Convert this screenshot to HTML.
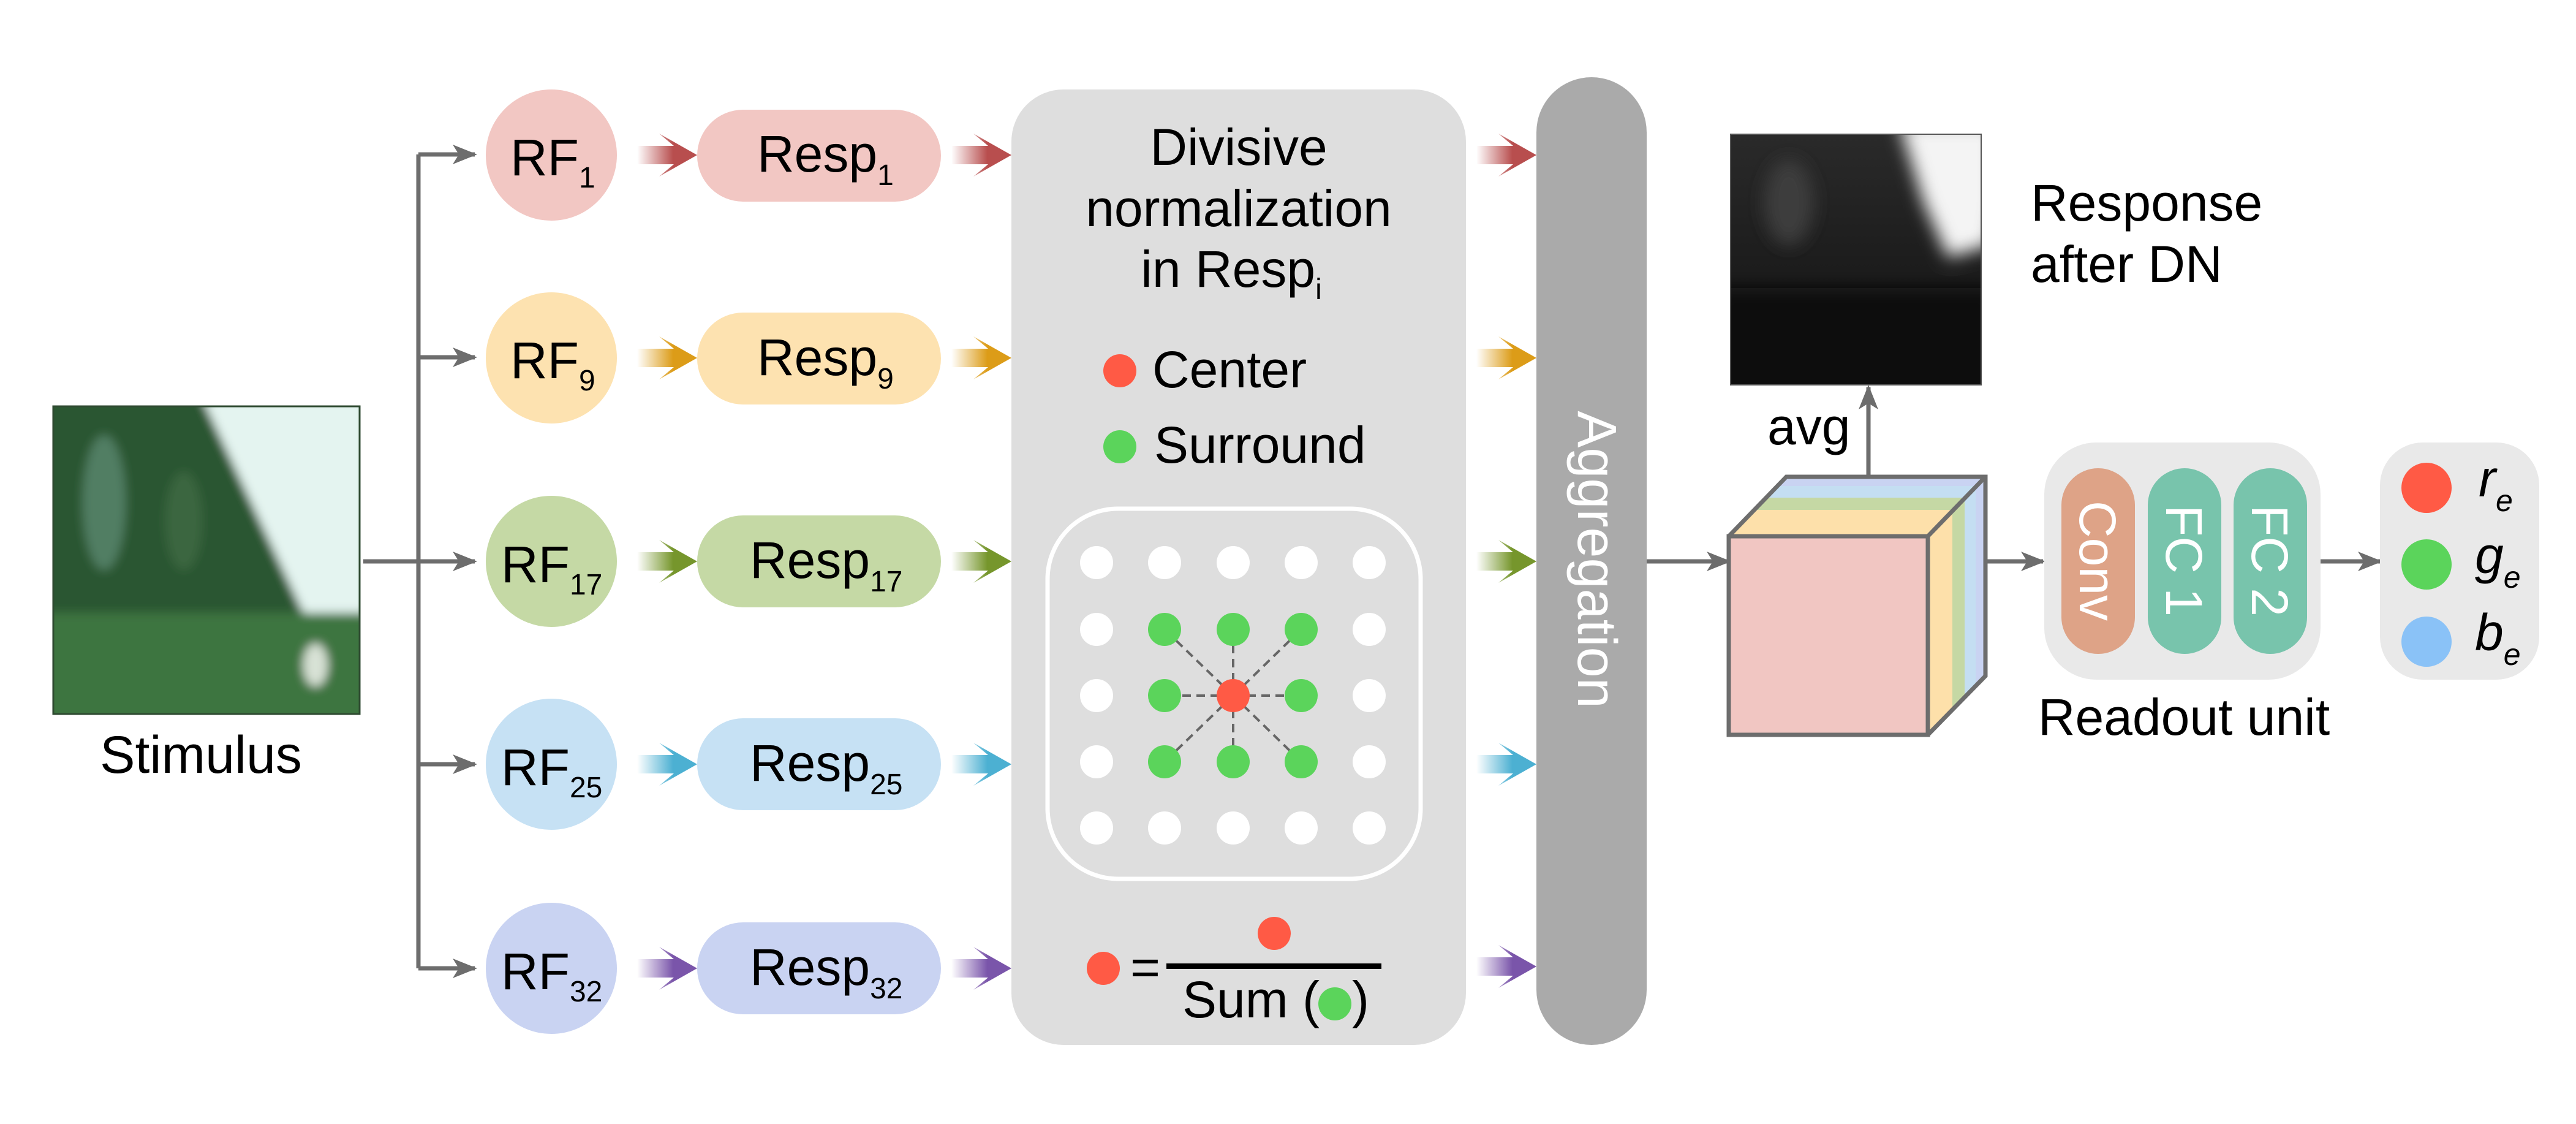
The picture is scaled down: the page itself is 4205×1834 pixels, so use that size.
<!DOCTYPE html>
<html><head><meta charset="utf-8"><style>
html,body{margin:0;padding:0;background:#fff}
svg{display:block}
text{font-family:"Liberation Sans",Arial,sans-serif}
</style></head><body>
<svg width="4205" height="1834" viewBox="0 0 4205 1834" xmlns="http://www.w3.org/2000/svg">
<defs>
<linearGradient id="gR" x1="0" x2="1"><stop offset="0" stop-color="#b84e4e" stop-opacity="0"/><stop offset="0.6" stop-color="#b84e4e"/></linearGradient>
<linearGradient id="gY" x1="0" x2="1"><stop offset="0" stop-color="#dc9c18" stop-opacity="0"/><stop offset="0.6" stop-color="#dc9c18"/></linearGradient>
<linearGradient id="gG" x1="0" x2="1"><stop offset="0" stop-color="#76962c" stop-opacity="0"/><stop offset="0.6" stop-color="#76962c"/></linearGradient>
<linearGradient id="gB" x1="0" x2="1"><stop offset="0" stop-color="#4cb0d2" stop-opacity="0"/><stop offset="0.6" stop-color="#4cb0d2"/></linearGradient>
<linearGradient id="gP" x1="0" x2="1"><stop offset="0" stop-color="#7a55aa" stop-opacity="0"/><stop offset="0.6" stop-color="#7a55aa"/></linearGradient>
<linearGradient id="field" x1="0" y1="0" x2="0" y2="1"><stop offset="0" stop-color="#5a8a56"/><stop offset="1" stop-color="#2f6434"/></linearGradient>
<linearGradient id="resp" x1="0" y1="0" x2="0" y2="1"><stop offset="0" stop-color="#2a2a2a"/><stop offset="0.5" stop-color="#1d1d1d"/><stop offset="1" stop-color="#161616"/></linearGradient>
<filter id="bl"><feGaussianBlur stdDeviation="14"/></filter>
<filter id="bl2"><feGaussianBlur stdDeviation="8"/></filter>
<marker id="ah2" markerWidth="40" markerHeight="40" refX="36" refY="20" orient="auto" markerUnits="userSpaceOnUse" viewBox="0 0 40 40"><path d="M0,4 L40,20 L0,36 L10,20 Z" fill="#6d6d6d"/></marker>
<clipPath id="stc"><rect x="87" y="663" width="500" height="502"/></clipPath>
<clipPath id="rsc"><rect x="2825" y="219" width="409" height="409"/></clipPath>
</defs>

<!-- Stimulus image -->
<g clip-path="url(#stc)">
<rect x="87" y="663" width="500" height="502" fill="url(#field)"/>
<g filter="url(#bl2)">
<polygon points="330,650 600,650 600,1010 500,1010" fill="#e4f4f0"/>
<polygon points="60,650 330,650 500,1010 60,1010" fill="#2c5630"/>
<ellipse cx="170" cy="820" rx="35" ry="110" fill="#6b9a86" opacity="0.6"/>
<ellipse cx="300" cy="850" rx="30" ry="80" fill="#3e6a44" opacity="0.8"/>
<rect x="60" y="1000" width="560" height="180" fill="#3c7540"/>
<ellipse cx="515" cy="1085" rx="20" ry="35" fill="#d8e2d6"/>
</g>
</g>
<rect x="87" y="663" width="500" height="502" fill="none" stroke="#2e4a30" stroke-width="3"/>
<text x="328" y="1261" font-size="86" text-anchor="middle">Stimulus</text>

<!-- trunk -->
<g stroke="#6d6d6d" stroke-width="7" fill="none">
<line x1="593" y1="916" x2="683" y2="916"/>
<line x1="683" y1="252" x2="683" y2="1580"/>
<line x1="683" y1="252" x2="775" y2="252" marker-end="url(#ah2)"/>
<line x1="683" y1="583" x2="775" y2="583" marker-end="url(#ah2)"/>
<line x1="683" y1="916" x2="775" y2="916" marker-end="url(#ah2)"/>
<line x1="683" y1="1247" x2="775" y2="1247" marker-end="url(#ah2)"/>
<line x1="683" y1="1580" x2="775" y2="1580" marker-end="url(#ah2)"/>
</g>

<!-- RF circles and resp pills -->
<g>
<circle cx="900" cy="253" r="107" fill="#f2c7c3"/>
<circle cx="900" cy="584" r="107" fill="#fde2b0"/>
<circle cx="900" cy="916" r="107" fill="#c5d9a5"/>
<circle cx="900" cy="1247" r="107" fill="#c6e1f4"/>
<circle cx="900" cy="1580" r="107" fill="#c9d3f2"/>
<rect x="1138" y="179" width="398" height="150" rx="75" fill="#f2c7c3"/>
<rect x="1138" y="510" width="398" height="150" rx="75" fill="#fde2b0"/>
<rect x="1138" y="841" width="398" height="150" rx="75" fill="#c5d9a5"/>
<rect x="1138" y="1172" width="398" height="150" rx="75" fill="#c6e1f4"/>
<rect x="1138" y="1505" width="398" height="150" rx="75" fill="#c9d3f2"/>
</g>
<g font-size="84">
<text x="833" y="286">RF<tspan font-size="48" dy="20">1</tspan></text>
<text x="833" y="617">RF<tspan font-size="48" dy="20">9</tspan></text>
<text x="818" y="950">RF<tspan font-size="48" dy="20">17</tspan></text>
<text x="818" y="1281">RF<tspan font-size="48" dy="20">25</tspan></text>
<text x="818" y="1614">RF<tspan font-size="48" dy="20">32</tspan></text>
<text x="1236" y="280">Resp<tspan font-size="48" dy="22">1</tspan></text>
<text x="1236" y="612">Resp<tspan font-size="48" dy="22">9</tspan></text>
<text x="1224" y="943">Resp<tspan font-size="48" dy="22">17</tspan></text>
<text x="1224" y="1274">Resp<tspan font-size="48" dy="22">25</tspan></text>
<text x="1224" y="1607">Resp<tspan font-size="48" dy="22">32</tspan></text>
</g>

<!-- colored arrows -->
<g>
<g transform="translate(1040,253)"><polygon points="0,-15 60,-15 36,-35 98,0 36,35 60,15 0,15" fill="url(#gR)"/></g>
<g transform="translate(1040,584)"><polygon points="0,-15 60,-15 36,-35 98,0 36,35 60,15 0,15" fill="url(#gY)"/></g>
<g transform="translate(1040,916)"><polygon points="0,-15 60,-15 36,-35 98,0 36,35 60,15 0,15" fill="url(#gG)"/></g>
<g transform="translate(1040,1247)"><polygon points="0,-15 60,-15 36,-35 98,0 36,35 60,15 0,15" fill="url(#gB)"/></g>
<g transform="translate(1040,1580)"><polygon points="0,-15 60,-15 36,-35 98,0 36,35 60,15 0,15" fill="url(#gP)"/></g>
<g transform="translate(1553,253)"><polygon points="0,-15 60,-15 36,-35 98,0 36,35 60,15 0,15" fill="url(#gR)"/></g>
<g transform="translate(1553,584)"><polygon points="0,-15 60,-15 36,-35 98,0 36,35 60,15 0,15" fill="url(#gY)"/></g>
<g transform="translate(1553,916)"><polygon points="0,-15 60,-15 36,-35 98,0 36,35 60,15 0,15" fill="url(#gG)"/></g>
<g transform="translate(1553,1247)"><polygon points="0,-15 60,-15 36,-35 98,0 36,35 60,15 0,15" fill="url(#gB)"/></g>
<g transform="translate(1553,1580)"><polygon points="0,-15 60,-15 36,-35 98,0 36,35 60,15 0,15" fill="url(#gP)"/></g>
<g transform="translate(2410,253)"><polygon points="0,-15 60,-15 36,-35 98,0 36,35 60,15 0,15" fill="url(#gR)"/></g>
<g transform="translate(2410,584)"><polygon points="0,-15 60,-15 36,-35 98,0 36,35 60,15 0,15" fill="url(#gY)"/></g>
<g transform="translate(2410,916)"><polygon points="0,-15 60,-15 36,-35 98,0 36,35 60,15 0,15" fill="url(#gG)"/></g>
<g transform="translate(2410,1247)"><polygon points="0,-15 60,-15 36,-35 98,0 36,35 60,15 0,15" fill="url(#gB)"/></g>
<g transform="translate(2410,1577)"><polygon points="0,-15 60,-15 36,-35 98,0 36,35 60,15 0,15" fill="url(#gP)"/></g>
</g>

<!-- DN panel -->
<rect x="1651" y="146" width="742" height="1559" rx="85" fill="#dedede"/>
<g font-size="84" text-anchor="middle">
<text x="2022" y="269">Divisive</text>
<text x="2022" y="369">normalization</text>
<text x="2010" y="468">in Resp<tspan font-size="48" dy="20">i</tspan></text>
</g>
<circle cx="1828" cy="605" r="27" fill="#ff5a45"/>
<text x="1881" y="632" font-size="84">Center</text>
<circle cx="1828" cy="729" r="27" fill="#5bd45b"/>
<text x="1884" y="755" font-size="84">Surround</text>

<rect x="1710" y="830" width="609" height="604" rx="115" fill="none" stroke="#fff" stroke-width="7"/>
<g stroke="#666" stroke-width="4" stroke-dasharray="14,9">
<line x1="2013" y1="1135" x2="1901" y2="1027"/><line x1="2013" y1="1135" x2="2013" y2="1027"/><line x1="2013" y1="1135" x2="2124" y2="1027"/>
<line x1="2013" y1="1135" x2="1901" y2="1135"/><line x1="2013" y1="1135" x2="2124" y2="1135"/>
<line x1="2013" y1="1135" x2="1901" y2="1243"/><line x1="2013" y1="1135" x2="2013" y2="1243"/><line x1="2013" y1="1135" x2="2124" y2="1243"/>
</g>
<g fill="#fff">
<circle cx="1790" cy="918" r="27"/><circle cx="1901" cy="918" r="27"/><circle cx="2013" cy="918" r="27"/><circle cx="2124" cy="918" r="27"/><circle cx="2235" cy="918" r="27"/>
<circle cx="1790" cy="1027" r="27"/><circle cx="2235" cy="1027" r="27"/>
<circle cx="1790" cy="1135" r="27"/><circle cx="2235" cy="1135" r="27"/>
<circle cx="1790" cy="1243" r="27"/><circle cx="2235" cy="1243" r="27"/>
<circle cx="1790" cy="1351" r="27"/><circle cx="1901" cy="1351" r="27"/><circle cx="2013" cy="1351" r="27"/><circle cx="2124" cy="1351" r="27"/><circle cx="2235" cy="1351" r="27"/>
</g>
<g fill="#5bd45b">
<circle cx="1901" cy="1027" r="27"/><circle cx="2013" cy="1027" r="27"/><circle cx="2124" cy="1027" r="27"/>
<circle cx="1901" cy="1135" r="27"/><circle cx="2124" cy="1135" r="27"/>
<circle cx="1901" cy="1243" r="27"/><circle cx="2013" cy="1243" r="27"/><circle cx="2124" cy="1243" r="27"/>
</g>
<circle cx="2013" cy="1135" r="27" fill="#ff5a45"/>

<!-- formula -->
<circle cx="1801" cy="1580" r="27" fill="#ff5a45"/>
<text x="1845" y="1607" font-size="84">=</text>
<rect x="1904" y="1572" width="351" height="9" fill="#000"/>
<circle cx="2080" cy="1523" r="27" fill="#ff5a45"/>
<text x="1930" y="1660" font-size="84">Sum (</text>
<circle cx="2179" cy="1638" r="27" fill="#5bd45b"/>
<text x="2207" y="1660" font-size="84">)</text>

<!-- Aggregation -->
<rect x="2508" y="126" width="180" height="1579" rx="90" fill="#aaaaaa"/>
<text transform="translate(2598,913) rotate(90)" font-size="90" fill="#fff" text-anchor="middle" dy="-2" dominant-baseline="middle">Aggregation</text>

<!-- arrows gray right side -->
<g stroke="#6d6d6d" stroke-width="7" fill="none">
<line x1="2688" y1="916" x2="2822" y2="916" marker-end="url(#ah2)"/>
<line x1="3241" y1="916" x2="3335" y2="916" marker-end="url(#ah2)"/>
<line x1="3788" y1="916" x2="3885" y2="916" marker-end="url(#ah2)"/>
<line x1="3050" y1="778" x2="3050" y2="632" marker-end="url(#ah2)"/>
</g>

<!-- cube -->
<polygon points="2916,778 3241,778 3241,1103 3147,1199 2822,875" fill="#c9d3f2"/>
<polygon points="2900,793 3225,793 3225,1118 3147,1199 2822,875" fill="#c4def2"/>
<polygon points="2882,812 3207,812 3207,1137 3147,1199 2822,875" fill="#c5d8a4"/>
<polygon points="2862,832 3187,832 3187,1157 3147,1199 2822,875" fill="#fde0aa"/>
<rect x="2822" y="875" width="325" height="324" fill="#f1c6c2" stroke="#6d6d6d" stroke-width="7"/>
<polyline points="2822,875 2916,778 3241,778 3241,1103 3147,1199" fill="none" stroke="#6d6d6d" stroke-width="7"/>
<line x1="3147" y1="875" x2="3241" y2="778" stroke="#6d6d6d" stroke-width="7"/>
<text x="2885" y="725" font-size="84">avg</text>

<!-- response map -->
<g clip-path="url(#rsc)">
<rect x="2825" y="219" width="409" height="409" fill="url(#resp)"/>
<g filter="url(#bl)">
<polygon points="3100,200 3260,200 3260,330 3250,400 3180,420 3140,330" fill="#f4f4f4"/>
<ellipse cx="2920" cy="330" rx="40" ry="70" fill="#3c3c3c"/>
<rect x="2800" y="470" width="460" height="180" fill="#111"/>
</g>
</g>
<rect x="2825" y="219" width="409" height="409" fill="none" stroke="#555" stroke-width="2"/>
<text x="3315" y="360" font-size="84">Response</text>
<text x="3315" y="460" font-size="84">after DN</text>

<!-- readout -->
<rect x="3337" y="722" width="451" height="387" rx="85" fill="#e9e9e9"/>
<rect x="3365" y="764" width="120" height="303" rx="60" fill="#dea387"/>
<rect x="3506" y="764" width="120" height="303" rx="60" fill="#78c4ac"/>
<rect x="3646" y="764" width="120" height="303" rx="60" fill="#78c4ac"/>
<g font-size="84" fill="#fff" text-anchor="middle">
<text transform="translate(3425,915) rotate(90)" dy="30">Conv</text>
<text transform="translate(3566,915) rotate(90)" dy="30">FC 1</text>
<text transform="translate(3706,915) rotate(90)" dy="30">FC 2</text>
</g>
<text x="3565" y="1199" font-size="84" text-anchor="middle">Readout unit</text>

<!-- output -->
<rect x="3885" y="722" width="260" height="387" rx="70" fill="#e9e9e9"/>
<circle cx="3961" cy="796" r="41" fill="#ff5a45"/>
<circle cx="3961" cy="921" r="41" fill="#5bd45b"/>
<circle cx="3961" cy="1047" r="41" fill="#8ac2f7"/>
<g font-size="84" font-style="italic">
<text x="4046" y="810">r<tspan font-size="50" dy="24">e</tspan></text>
<text x="4040" y="935">g<tspan font-size="50" dy="24">e</tspan></text>
<text x="4040" y="1061">b<tspan font-size="50" dy="24">e</tspan></text>
</g>
</svg>
</body></html>
